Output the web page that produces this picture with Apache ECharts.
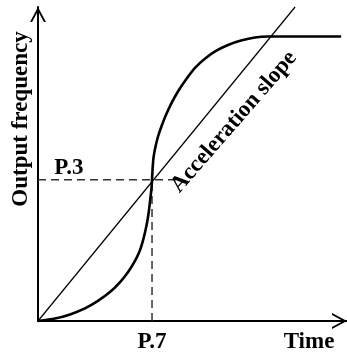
<!DOCTYPE html>
<html>
<head>
<meta charset="utf-8">
<script src="https://cdn.jsdelivr.net/npm/echarts@6/dist/echarts.min.js"></script>
<style>
html,body{margin:0;padding:0;background:#fff;}
#chart{width:347px;height:356px;}
</style>
</head>
<body>
<div id="chart"></div>
<script>
// S-curve (output frequency vs time)
const curveX = [0, 5.5, 10.4, 15.2, 19.4, 23.3, 26.5, 29.1, 31.2, 32.9, 34.1, 35.1, 35.8, 36.3, 36.7, 36.9,
                37.1, 37.4, 38.0, 38.8, 40.0, 41.4, 43.2, 45.3, 47.9, 50.8, 54.1, 57.6, 61.5, 65.7, 70.2, 74.4, 98.1];
const curveY = [0, 0.8, 2.1, 4.0, 6.4, 9.2, 12.3, 15.5, 18.8, 22.3, 26.1, 30.3, 34.4, 38.5, 42.0, 45.0,
                48.7, 52.2, 55.4, 58.6, 62.1, 65.6, 69.4, 73.1, 76.9, 80.6, 83.6, 86.0, 87.9, 89.3, 90.3, 90.6, 90.6];
// straight acceleration slope
const slopeX = [0, 83.2];
const slopeY = [0, 100];
// reference point P.7 (time) / P.3 (frequency)
const p7 = 36.9;
const p3 = 45;
const p3LineEnd = 46;
// tick labels on the time axis
const xTickValues = [36.9, 87.7];
const xTickLabels = ['P.7', 'Time'];
// text annotations
const annoNames = ['P.3', 'Acceleration slope'];
const annoX = [10.0, 63.4];
const annoY = [48.7, 63.4];
const annoRotate = [0, 49];
const yAxisTitle = 'Output frequency';

const FONT = '"Liberation Serif", "Times New Roman", serif';
const chevron = 'path://M8,0 L16.5,16 L14.3,16 L8,4.25 L1.7,16 L-0.5,16 Z';

const chart = echarts.init(document.getElementById('chart'), null, {renderer: 'canvas'});

const zip = (xs, ys) => xs.map((x, i) => [x, ys[i]]);

chart.setOption({
  animation: false,
  backgroundColor: '#fff',
  grid: {left: 38, right: 0, top: 7, bottom: 35},
  xAxis: {
    type: 'value', min: 0, max: 100,
    splitLine: {show: false},
    axisTick: {show: false},
    axisLine: {show: true, onZero: false, lineStyle: {color: '#000', width: 2},
      symbol: ['none', chevron], symbolSize: [16, 15], symbolOffset: [0, -7.5]},
    axisLabel: {
      show: true, customValues: xTickValues, margin: 10,
      formatter: v => { const i = xTickValues.indexOf(v); return i >= 0 ? xTickLabels[i] : ''; },
      color: '#000', fontFamily: FONT, fontWeight: 'bold', fontSize: 23
    }
  },
  yAxis: {
    type: 'value', min: 0, max: 100,
    splitLine: {show: false},
    axisTick: {show: false},
    axisLabel: {show: false},
    axisLine: {show: true, onZero: false, lineStyle: {color: '#000', width: 2},
      symbol: ['none', chevron], symbolSize: [16, 15], symbolOffset: [0, -7.5]}
  },
  graphic: [{
    type: 'text', x: 21, y: 119, rotation: Math.PI / 2,
    style: {text: yAxisTitle, fill: '#000', font: 'bold 23px ' + FONT, align: 'center', verticalAlign: 'middle'}
  }],
  series: [
    {
      type: 'line', data: zip(curveX, curveY), smooth: 0.25, showSymbol: false, clip: false,
      lineStyle: {color: '#000', width: 2.6}, z: 5
    },
    {
      type: 'line', data: zip(slopeX, slopeY), showSymbol: false, clip: false,
      lineStyle: {color: '#000', width: 1.2}, z: 4
    },
    {
      type: 'line', data: [[0, p3], [p3LineEnd, p3]], showSymbol: false,
      lineStyle: {color: '#333', width: 1.5, type: [8, 5]}, z: 3
    },
    {
      type: 'line', data: [[p7, 0], [p7, p3]], showSymbol: false,
      lineStyle: {color: '#333', width: 1.5, type: [8, 5]}, z: 3
    },
    {
      type: 'scatter', symbolSize: 0, silent: true,
      itemStyle: {opacity: 1},
      data: annoNames.map((n, i) => ({name: n, value: [annoX[i], annoY[i]],
        label: {rotate: annoRotate[i]}})),
      label: {show: true, position: 'inside', formatter: p => p.name, opacity: 1,
        color: '#000', fontFamily: FONT, fontWeight: 'bold', fontSize: 23,
        align: 'center', verticalAlign: 'middle'},
      z: 6
    }
  ]
});
</script>
</body>
</html>
